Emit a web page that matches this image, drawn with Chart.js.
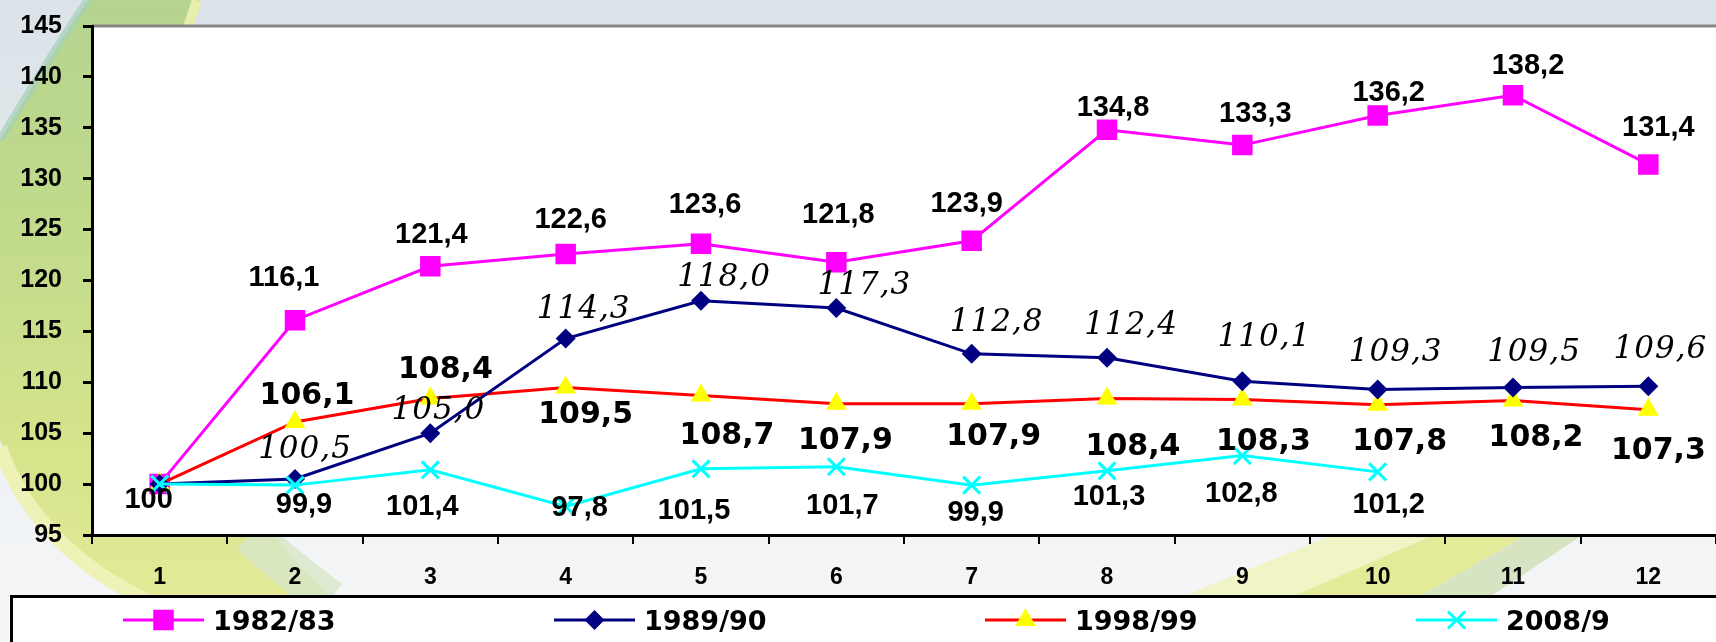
<!DOCTYPE html>
<html>
<head>
<meta charset="utf-8">
<script src="https://cdn.jsdelivr.net/npm/chart.js@4.4.1/dist/chart.umd.min.js"></script>
<style>
html,body{margin:0;padding:0;background:#fff;overflow:hidden}
#wrap{width:1716px;height:642px;position:relative}
canvas{display:block}
</style>
</head>
<body>
<div id="wrap"><canvas id="c" width="1716" height="642"></canvas></div>
<script>
// ---------------- DATA ----------------
const months = ['1','2','3','4','5','6','7','8','9','10','11','12'];
const seriesNames = ['1982/83','1989/90','1998/99','2008/9'];
const v1982 = [100,116.1,121.4,122.6,123.6,121.8,123.9,134.8,133.3,136.2,138.2,131.4];
const v1989 = [100,100.5,105.0,114.3,118.0,117.3,112.8,112.4,110.1,109.3,109.5,109.6];
const v1998 = [100,106.1,108.4,109.5,108.7,107.9,107.9,108.4,108.3,107.8,108.2,107.3];
const v2008 = [100,99.9,101.4,97.8,101.5,101.7,99.9,101.3,102.8,101.2,null,null];
const yTicks = [95,100,105,110,115,120,125,130,135,140,145];

// ---------------- LABEL STYLE (offsets of value labels relative to their point) ----------------
const labelStyles = [
  { family:'"Liberation Sans", Arial, sans-serif', size:29, weight:'bold', style:'normal', cap:0.716, spacing:'0px', skipFirst:true,
    shift:[[0,0],[-11,-45],[1,-34],[5,-36],[4,-41],[2,-50],[-5,-39],[6,-24],[13,-33],[11,-25],[15,-32],[10,-39]] },
  { family:'"DejaVu Serif", serif', size:31, weight:'normal', style:'italic', cap:0.729, spacing:'1px', skipFirst:true,
    shift:[[0,0],[10,-32],[8,-25],[18,-32],[23,-26],[28,-25],[25,-34],[24,-35],[22,-47],[18,-40],[21,-38],[12,-40]] },
  { family:'"DejaVu Sans", sans-serif', size:30, weight:'bold', style:'normal', cap:0.729, spacing:'0px', skipFirst:true,
    shift:[[0,0],[12,-29],[15,-32],[20,25],[26,38],[9,34],[22,30],[26,45],[21,39],[22,34],[23,34],[10,38]] },
  { family:'"Liberation Sans", Arial, sans-serif', size:29, weight:'bold', style:'normal', cap:0.716, spacing:'0px', skipFirst:false,
    shift:[[-11,14],[9,17],[-8,35],[14,-1],[-7,40],[6,37],[4,25],[2,24],[-1,36],[11,31],[0,0],[0,0]] }
];

function fmt(v, i){
  if (i === 0) return String(v);
  return v.toFixed(1).replace('.', ',');
}

// ---------------- BACKGROUND ----------------
function poly(ctx, pts, color){
  ctx.beginPath();
  ctx.moveTo(pts[0][0], pts[0][1]);
  for (let i=1;i<pts.length;i++) ctx.lineTo(pts[i][0], pts[i][1]);
  ctx.closePath();
  ctx.fillStyle = color; ctx.fill();
}
function drawBackground(ctx, W, H){
  const base = ctx.createLinearGradient(0,0,0,H);
  base.addColorStop(0,'#dbe3e8'); base.addColorStop(0.45,'#e6ecef');
  base.addColorStop(0.85,'#f2f4f6'); base.addColorStop(1,'#f5f6f8');
  ctx.fillStyle = base; ctx.fillRect(0,0,W,H);

  ctx.beginPath();
  ctx.moveTo(88,0);
  ctx.lineTo(200,0);
  ctx.bezierCurveTo(150,200,180,470,335,600);
  ctx.lineTo(150,600);
  ctx.bezierCurveTo(70,560,20,500,0,440);
  ctx.lineTo(0,140);
  ctx.bezierCurveTo(30,90,60,40,88,0);
  ctx.closePath();
  const gg = ctx.createLinearGradient(0,0,0,600);
  gg.addColorStop(0,'#b4d48f'); gg.addColorStop(0.45,'#c4dc8b');
  gg.addColorStop(0.75,'#d6e48b'); gg.addColorStop(1,'#e3ea98');
  ctx.fillStyle = gg; ctx.fill();

  ctx.lineCap = 'butt';
  ctx.beginPath(); ctx.moveTo(0,447); ctx.bezierCurveTo(20,507,70,565,150,602);
  ctx.strokeStyle = '#eef2b6'; ctx.lineWidth = 14; ctx.stroke();
  ctx.beginPath(); ctx.moveTo(197,0); ctx.lineTo(187,30);
  ctx.strokeStyle = '#e8eeac'; ctx.lineWidth = 10; ctx.stroke();
  ctx.beginPath(); ctx.moveTo(88,0); ctx.bezierCurveTo(60,40,30,90,0,140);
  ctx.strokeStyle = 'rgba(165,208,185,0.7)'; ctx.lineWidth = 8; ctx.stroke();
  ctx.beginPath(); ctx.moveTo(250,535); ctx.quadraticCurveTo(290,570,330,600);
  ctx.strokeStyle = 'rgba(215,230,200,0.8)'; ctx.lineWidth = 40; ctx.stroke();

  poly(ctx, [[1174,600],[1345,530],[1445,530],[1285,600]], '#f1f4c4');
  poly(ctx, [[1285,600],[1445,530],[1535,530],[1413,600]], '#e3eb98');
  poly(ctx, [[1413,600],[1535,530],[1590,530],[1485,600]], '#d6e4c2');
}

const bgPlugin = {
  id:'bg',
  beforeDraw(chart){
    const {ctx, chartArea:a, width:W, height:H} = chart;
    ctx.save();
    drawBackground(ctx, W, H);
    ctx.fillStyle = '#ffffff';
    ctx.fillRect(a.left, a.top, a.right - a.left, a.bottom - a.top);
    ctx.strokeStyle = '#868686'; ctx.lineWidth = 3;
    ctx.beginPath(); ctx.moveTo(a.left, a.top); ctx.lineTo(W, a.top); ctx.stroke();
    ctx.restore();
  }
};

const labelPlugin = {
  id:'vlabels',
  afterDatasetsDraw(chart){
    const ctx = chart.ctx;
    ctx.save();
    chart.data.datasets.forEach((ds, di) => {
      const st = labelStyles[di];
      const meta = chart.getDatasetMeta(di);
      ctx.font = `${st.style} ${st.weight} ${st.size}px ${st.family}`;
      if ('letterSpacing' in ctx) ctx.letterSpacing = st.spacing;
      ctx.fillStyle = '#000';
      ctx.textAlign = 'center';
      ctx.textBaseline = 'alphabetic';
      ds.data.forEach((v, i) => {
        if (v === null || v === undefined) return;
        if (i === 0 && st.skipFirst) return;
        const p = meta.data[i];
        const s = st.shift[i];
        const cx = p.x + s[0], cy = p.y + s[1];
        ctx.fillText(fmt(v, i), cx, cy + st.cap * st.size / 2);
      });
    });
    ctx.restore();
  }
};

function marker(ctx, ds, x, y){
  const opts = { pointStyle: ds.pointStyle, radius: ds.pointRadius, rotation: 0, borderWidth: ds.pointBorderWidth };
  ctx.fillStyle = ds.pointBackgroundColor;
  ctx.strokeStyle = ds.pointBorderColor;
  ctx.lineWidth = ds.pointBorderWidth;
  Chart.helpers.drawPoint(ctx, opts, x, y);
}

const legendPlugin = {
  id:'boxlegend',
  afterDraw(chart){
    const ctx = chart.ctx;
    const box = { left:10, top:595 };
    ctx.save();
    ctx.fillStyle = '#fff';
    ctx.fillRect(box.left, box.top, chart.width, 60);
    ctx.strokeStyle = '#000'; ctx.lineWidth = 3;
    ctx.strokeRect(box.left + 1.5, box.top + 1.5, chart.width + 20, 80);
    const cy = box.top + 25;
    chart.data.datasets.forEach((ds, i) => {
      const x0 = box.left + 113 + i * 431;
      ctx.strokeStyle = ds.borderColor; ctx.lineWidth = 3; ctx.lineCap = 'butt';
      ctx.beginPath(); ctx.moveTo(x0, cy); ctx.lineTo(x0 + 81, cy); ctx.stroke();
      marker(ctx, ds, x0 + 40.5, cy);
      ctx.fillStyle = '#000';
      ctx.font = 'bold 27px "DejaVu Sans", sans-serif';
      ctx.textAlign = 'left'; ctx.textBaseline = 'alphabetic';
      ctx.fillText(ds.label, x0 + 90, cy + 0.729 * 27 / 2);
    });
    ctx.restore();
  }
};

const tickFont = (size) => ({ family:'"Liberation Sans", Arial, sans-serif', size:size, weight:'bold' });

const chart = new Chart(document.getElementById('c'), {
  type:'line',
  data:{
    labels: months,
    datasets:[
      { label:seriesNames[0], data:v1982, borderColor:'#ff00ff', borderWidth:3, tension:0,
        pointStyle:'rect', pointRadius:14.5, pointBackgroundColor:'#ff00ff', pointBorderColor:'#ff00ff', pointBorderWidth:0, order:3 },
      { label:seriesNames[1], data:v1989, borderColor:'#000080', borderWidth:3, tension:0,
        pointStyle:'rectRot', pointRadius:10, pointBackgroundColor:'#000080', pointBorderColor:'#000080', pointBorderWidth:0, order:1 },
      { label:seriesNames[2], data:v1998, borderColor:'#ff0000', borderWidth:3, tension:0,
        pointStyle:'triangle', pointRadius:12, pointBackgroundColor:'#ffff00', pointBorderColor:'#ffff00', pointBorderWidth:0, order:2 },
      { label:seriesNames[3], data:v2008, borderColor:'#00ffff', borderWidth:3, tension:0,
        pointStyle:'crossRot', pointRadius:12, pointBackgroundColor:'#00ffff', pointBorderColor:'#00ffff', pointBorderWidth:3, order:0 }
    ]
  },
  options:{
    responsive:false,
    animation:false,
    devicePixelRatio:1,
    events:[],
    layout:{ autoPadding:false, padding:{ top:26, left:0, right:0, bottom:0 } },
    plugins:{ legend:{ display:false }, tooltip:{ enabled:false }, title:{ display:false } },
    scales:{
      x:{
        type:'category', offset:true,
        grid:{ display:true, drawOnChartArea:false, drawTicks:true, tickLength:9, color:'#000', lineWidth:2, offset:true },
        border:{ display:true, color:'#000', width:3 },
        ticks:{ color:'#000', font:tickFont(23), padding:20, maxRotation:0, autoSkip:false },
        afterFit(s){ s.height = 107; s.paddingLeft = 0; s.paddingRight = 0; }
      },
      y:{
        min: yTicks[0], max: yTicks[yTicks.length-1],
        afterBuildTicks(s){ s.ticks = yTicks.map(v => ({ value:v })); },
        grid:{ display:true, drawOnChartArea:false, drawTicks:true, tickLength:9, color:'#000', lineWidth:3 },
        border:{ display:true, color:'#000', width:3 },
        ticks:{ color:'#000', font:tickFont(25), padding:21 },
        afterFit(s){ s.width = 92; s.paddingTop = 0; s.paddingBottom = 0; }
      }
    }
  },
  plugins:[bgPlugin, labelPlugin, legendPlugin]
});
</script>
</body>
</html>
